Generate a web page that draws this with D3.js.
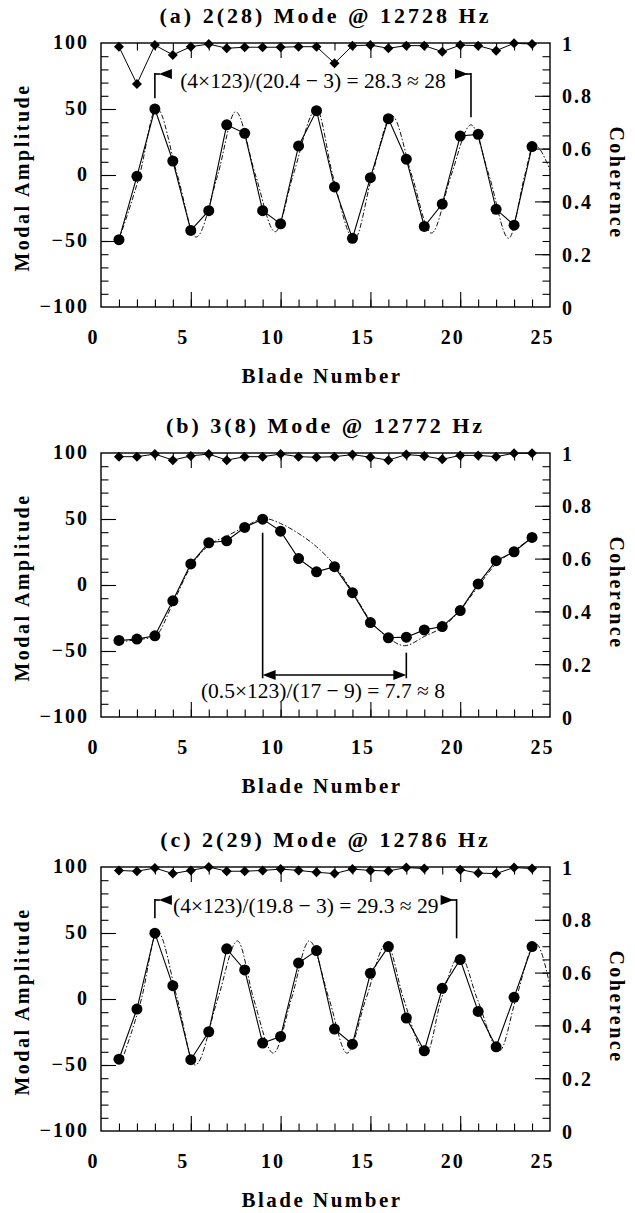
<!DOCTYPE html>
<html><head><meta charset="utf-8">
<script src="https://cdn.jsdelivr.net/npm/d3@7"></script>
<style>body{margin:0;background:#fff}</style>
</head><body>
<svg id="chart" width="635" height="1213" xmlns="http://www.w3.org/2000/svg"></svg>
<script>
// ---------------- data ----------------
const blades = [1,2,3,4,5,6,7,8,9,10,11,12,13,14,15,16,17,18,19,20,21,22,23,24];

const titles = ["(a) 2(28) Mode @ 12728 Hz", "(b) 3(8) Mode @ 12772 Hz", "(c) 2(29) Mode @ 12786 Hz"];

const ampA = [-49,-1,50,10.6,-42,-27,38,31.6,-27,-37,22,48.7,-9,-48,-2,42.7,12,-39,-22,29.5,30.8,-26,-38,21.5];
const cohA = [0.986,0.845,0.992,0.955,0.986,0.996,0.98,0.984,0.984,0.984,0.986,0.986,0.923,0.99,0.992,0.98,0.99,0.99,0.967,0.992,0.99,0.971,0.999,0.996];
const fitAX = [1.0,2.15,3.1,4.25,5.3,6.5,7.5,8.6,9.7,10.7,12.0,12.9,14.1,15.1,16.2,17.3,18.4,19.5,20.6,21.6,22.7,23.6,24.1,25];
const fitAY = [-49,0,51,0,-47,0,48,0,-43,0,50,0,-49,0,45,0,-44,0,38,0,-48,0,23,4];

const ampB = [-42,-41,-38.5,-12,16,32,33.5,43.6,49.9,40.8,20,10,13.9,-5.8,-28.5,-40,-39.5,-34,-31.5,-19.4,0.8,18.4,25.2,36];
const cohB = [0.986,0.986,0.996,0.973,0.989,0.996,0.973,0.986,0.986,0.996,0.986,0.984,0.986,0.994,0.984,0.973,0.994,0.989,0.976,0.991,0.991,0.986,0.999,0.999];
const fitBX = [1,2,3,4,5,6,7,8,9.1,10,11,12,13,14,15,16,16.9,18,19,20,21,22,23,24];
const fitBY = [-43,-41.5,-39,-14,14,30,37,44,50.4,46.6,39,29,15,-5,-27,-40,-46,-39,-32,-19,-1,16,26,36];

const ampC = [-45.6,-7.6,49.9,10.1,-46,-24.8,38,22,-33.4,-28.4,27.3,36.7,-22.8,-34.2,19.5,39.7,-14.4,-39.2,8.1,29.9,-9.4,-36.2,1.3,39.7];
const cohC = [0.987,0.984,0.996,0.975,0.987,1.0,0.984,0.984,0.987,0.992,0.987,0.98,0.975,0.992,0.987,0.985,0.998,0.994,null,0.99,0.977,0.975,0.998,0.994];
const fitCX = [1.1,2.25,3.15,4.25,5.25,6.5,7.6,8.5,9.6,10.6,11.6,12.7,13.7,14.75,15.9,16.85,18.1,18.95,20.0,20.95,22.2,23.1,24.2,25];
const fitCY = [-49,0,51,0,-50,0,44,0,-41,0,44,0,-41,0,42,0,-42,0,33,0,-39,0,42,10];

const xTickLabels = [0,5,10,15,20,25];
const xMajor = [5,10,15,20];
const yTickLabels = [-100,-50,0,50,100];
const cohTickLabels = [0,0.2,0.4,0.6,0.8,1];

const annotations = [
  {type:"span", text:"(4\u00d7123)/(20.4 \u2212 3) = 28.3 \u2248 28", from:3, to:20.6},
  {type:"double", text:"(0.5\u00d7123)/(17 \u2212 9) = 7.7 \u2248 8", from:9, to:17},
  {type:"span", text:"(4\u00d7123)/(19.8 \u2212 3) = 29.3 \u2248 29", from:3, to:19.8}
];

// ---------------- layout ----------------
const svg = d3.select("#chart");
const L = 101, R = 550, PH = 264;
const tops = [43, 453, 867];
const serif = "'Liberation Serif','Times New Roman',Times,serif";
const x = d3.scaleLinear().domain([0,25]).range([L,R]);

const panels = [
  {amp:ampA, coh:cohA, fx:fitAX, fy:fitAY},
  {amp:ampB, coh:cohB, fx:fitBX, fy:fitBY},
  {amp:ampC, coh:cohC, fx:fitCX, fy:fitCY}
];

function tri(g, tipX, y, dir){
  g.append("path")
   .attr("d", `M${tipX},${y} L${tipX+dir*13},${y-5} L${tipX+dir*13},${y+5} Z`)
   .attr("fill","#000");
}

panels.forEach((p, i) => {
  const T = tops[i], B = T + PH;
  const y = d3.scaleLinear().domain([-100,100]).range([B,T]);
  const yc = d3.scaleLinear().domain([0,1]).range([B,T]);
  const g = svg.append("g");

  // title
  g.append("text").attr("x", (L+R)/2).attr("y", T-20)
   .attr("text-anchor","middle").attr("font-family",serif).attr("font-weight","bold")
   .attr("font-size",22).attr("letter-spacing","3px").text(titles[i]);

  // ticks (inward) via axes
  const minorX = d3.range(1,25);
  const minorY = d3.range(-90,100,10);
  const minorC = d3.range(0.05,1,0.05);
  const tickAxis = (axis, tr) => {
    const a = g.append("g").attr("transform", tr).call(axis);
    a.select(".domain").remove();
    a.selectAll("line").attr("stroke","#000").attr("stroke-width",1.1);
    return a;
  };
  tickAxis(d3.axisBottom(x).tickValues(minorX).tickSizeInner(-7.5).tickSizeOuter(0).tickFormat(""), `translate(0,${B})`);
  tickAxis(d3.axisBottom(x).tickValues(xMajor).tickSizeInner(-15).tickSizeOuter(0).tickFormat(""), `translate(0,${B})`);
  tickAxis(d3.axisTop(x).tickValues(minorX).tickSizeInner(-7.5).tickSizeOuter(0).tickFormat(""), `translate(0,${T})`);
  tickAxis(d3.axisTop(x).tickValues(xMajor).tickSizeInner(-15).tickSizeOuter(0).tickFormat(""), `translate(0,${T})`);
  tickAxis(d3.axisLeft(y).tickValues(minorY).tickSizeInner(-7.5).tickSizeOuter(0).tickFormat(""), `translate(${L},0)`);
  tickAxis(d3.axisLeft(y).tickValues([-50,0,50]).tickSizeInner(-15).tickSizeOuter(0).tickFormat(""), `translate(${L},0)`);
  tickAxis(d3.axisRight(yc).tickValues(minorC).tickSizeInner(-7.5).tickSizeOuter(0).tickFormat(""), `translate(${R},0)`);
  tickAxis(d3.axisRight(yc).tickValues([0.2,0.4,0.6,0.8]).tickSizeInner(-15).tickSizeOuter(0).tickFormat(""), `translate(${R},0)`);

  // tick labels
  const lab = (axis, tr, fn) => {
    const a = g.append("g").attr("transform", tr).call(axis);
    a.select(".domain").remove();
    a.selectAll("line").remove();
    a.attr("font-family", serif).attr("font-size", 20).attr("font-weight","bold");
    a.selectAll("text").attr("fill","#000").attr("letter-spacing","2px");
    fn(a.selectAll("text"));
  };
  lab(d3.axisBottom(x).tickValues(xTickLabels).tickSize(0).tickPadding(0).tickFormat(d3.format("d")),
      `translate(0,${B})`, t => t.attr("dy", null).attr("y", 36.5).attr("x", -8));
  lab(d3.axisLeft(y).tickValues(yTickLabels).tickSize(0).tickPadding(12).tickFormat(d3.format("d")),
      `translate(${L},0)`, t => t.attr("dy", null).attr("y", 5));
  lab(d3.axisRight(yc).tickValues(cohTickLabels).tickSize(0).tickPadding(12).tickFormat(d => d === 0 || d === 1 ? d3.format("d")(d) : d3.format(".1f")(d)),
      `translate(${R},0)`, t => t.attr("dy", null).attr("y", 7));

  // axis titles
  g.append("text").attr("transform", `translate(29,${T+134.5}) rotate(-90)`)
   .attr("text-anchor","middle").attr("font-family",serif).attr("font-weight","bold")
   .attr("font-size",20).attr("letter-spacing","2.5px").text("Modal Amplitude");
  g.append("text").attr("transform", `translate(610,${T+140}) rotate(90)`)
   .attr("text-anchor","middle").attr("font-family",serif).attr("font-weight","bold")
   .attr("font-size",20).attr("letter-spacing","2.5px").text("Coherence");
  g.append("text").attr("x", 322).attr("y", B+76)
   .attr("text-anchor","middle").attr("font-family",serif).attr("font-weight","bold")
   .attr("font-size",21).attr("letter-spacing","2.5px").text("Blade Number");

  // frame
  g.append("rect").attr("x",L).attr("y",T).attr("width",R-L).attr("height",PH)
   .attr("fill","none").attr("stroke","#000").attr("stroke-width",1.4);

  // fitted curve (dash-dot)
  const fitPts = p.fx.map((v,k) => ({b:v, v:p.fy[k]}));
  g.append("path").datum(fitPts)
   .attr("d", d3.line().curve(d3.curveMonotoneX).x(d=>x(d.b)).y(d=>y(d.v)))
   .attr("fill","none").attr("stroke","#111").attr("stroke-width",1)
   .attr("stroke-dasharray","5,2,1.5,2");

  // measured amplitude
  const ampPts = blades.map((b,k) => ({b, v:p.amp[k]}));
  g.append("path").datum(ampPts)
   .attr("d", d3.line().x(d=>x(d.b)).y(d=>y(d.v)))
   .attr("fill","none").attr("stroke","#000").attr("stroke-width",1.1);
  g.selectAll("circle.amp").data(ampPts).join("circle").attr("class","amp")
   .attr("cx", d=>x(d.b)).attr("cy", d=>y(d.v)).attr("r",5.5).attr("fill","#000");

  // coherence
  const cohPts = blades.map((b,k) => ({b, c:p.coh[k]}));
  g.append("path").datum(cohPts)
   .attr("d", d3.line().defined(d=>d.c!=null).x(d=>x(d.b)).y(d=>yc(d.c)))
   .attr("fill","none").attr("stroke","#000").attr("stroke-width",1);
  const diamond = d3.symbol().type(d3.symbolSquare).size(50)();
  g.selectAll("path.coh").data(cohPts.filter(d=>d.c!=null)).join("path").attr("class","coh")
   .attr("d", diamond)
   .attr("transform", d=>`translate(${x(d.b)},${yc(d.c)}) rotate(45)`)
   .attr("fill","#000");

  // annotation
  const a = annotations[i];
  const ag = g.append("g").attr("stroke-linecap","butt");
  const ln = (x1,y1,x2,y2) => ag.append("line").attr("x1",x1).attr("y1",y1).attr("x2",x2).attr("y2",y2)
                     .attr("stroke","#000").attr("stroke-width",1.6);
  const at = (tx, ty, txt) => ag.append("text").attr("x",tx).attr("y",ty).attr("text-anchor","middle")
     .attr("font-family",serif).attr("font-size",21.5).text(txt);
  if (a.type === "span") {
    const x1 = x(a.from), x2 = x(a.to);
    const ay = i === 0 ? T+31 : T+33;
    const botL = i === 0 ? T+55.3 : T+51.3;
    const botR = i === 0 ? T+74.3 : T+71.3;
    ln(x1, ay-1, x1, botL); ln(x1, ay, x1+5, ay); tri(ag, x1+4, ay, 1);
    ln(x2, ay-1, x2, botR); ln(x2-5, ay, x2, ay); tri(ag, x2-3, ay, -1);
    at((x1+x2)/2, i === 0 ? T+44.5 : T+46, a.text);
  } else {
    const x1 = x(a.from), x2 = x(a.to);
    const ay = T+222;
    ln(x1, T+79.7, x1, T+225.3);
    ln(x2, T+199.7, x2, T+225.3);
    ln(x1+10, ay, x2-10, ay);
    tri(ag, x1, ay, 1); tri(ag, x2, ay, -1);
    at((x1+x2)/2 - 11.5, T+245, a.text);
  }
});
</script>
</body></html>
